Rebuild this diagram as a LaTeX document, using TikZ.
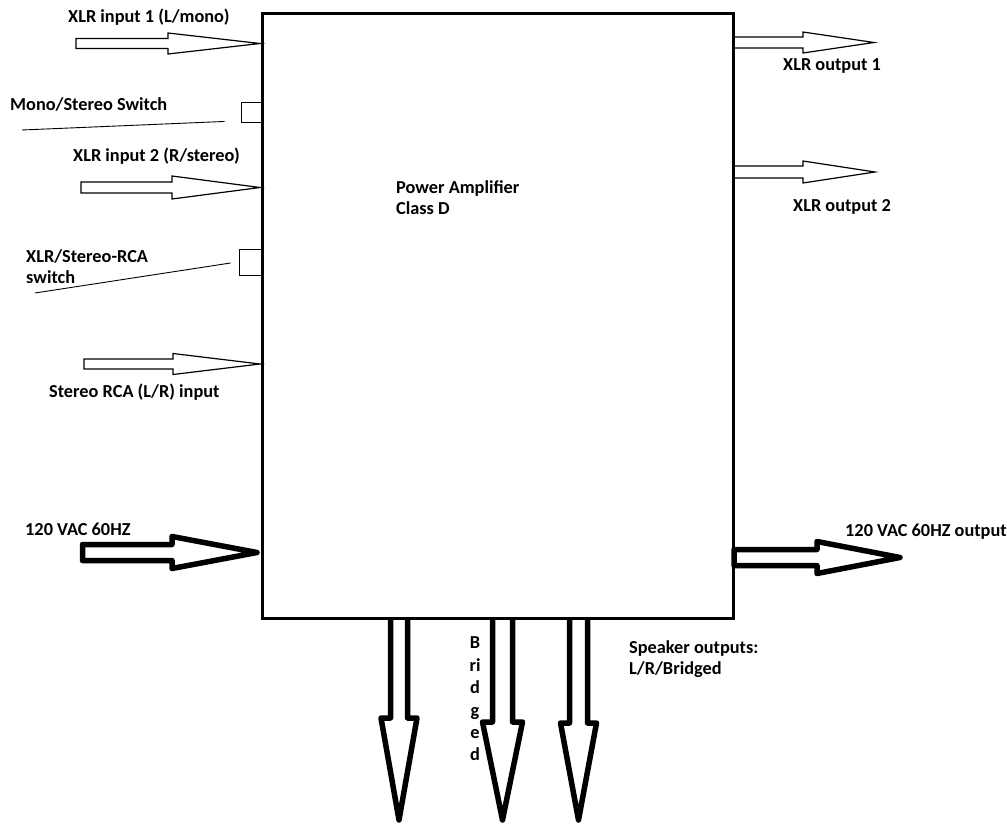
\documentclass[tikz,border=0pt]{standalone}
\usepackage{fontspec}
\setmainfont{Carlito}
\usetikzlibrary{positioning}

\begin{document}
\begin{tikzpicture}[
    x=1pt, y=-1pt,
    lbl/.style={font=\fontsize{18.3}{21.5}\selectfont\bfseries, inner sep=0pt, anchor=west, align=left},
    thinarr/.style={draw, line width=1.2pt, line join=miter},
    thickarr/.style={draw, line width=5.5pt, line join=round},
    switchbox/.style={draw, line width=0.9pt, inner sep=0pt}
]
\useasboundingbox (0,0) rectangle (1007,824);

\node[draw, line width=3pt, minimum width=471pt, minimum height=604pt, inner sep=0pt] (amp) at (497.5,316) {};
\node[lbl] (title) at (396,197.5) {Power Amplifier\\Class D};

\foreach \xs/\xh/\xt/\yc/\hs/\hh in {76/168/260/43.5/5/10.5, 81/172/260/187.5/5.5/11.5, 84/173/260/364/5/10.5, 733/803/874/42.5/5.5/10.5, 733/803/875/172/6/11}
    \draw[thinarr] (\xs,\yc-\hs) -- (\xh,\yc-\hs) -- (\xh,\yc-\hh) -- (\xt,\yc) -- (\xh,\yc+\hh) -- (\xh,\yc+\hs) -- (\xs,\yc+\hs) -- cycle;

\foreach \xs/\xh/\xt/\yc in {82.5/172/257/552.5, 734/817/900/557.5}
    \draw[thickarr] (\xs,\yc-8) -- (\xh,\yc-8) -- (\xh,\yc-16) -- (\xt,\yc) -- (\xh,\yc+16) -- (\xh,\yc+8) -- (\xs,\yc+8) -- cycle;

\foreach \xc/\ys/\yh/\hs/\hh in {399/617/718/8.5/18, 502.5/620/722/10/20, 578.5/620/723/9/18}
    \draw[thickarr] (\xc-\hs,\ys) -- (\xc-\hs,\yh) -- (\xc-\hh,\yh) -- (\xc,820) -- (\xc+\hh,\yh) -- (\xc+\hs,\yh) -- (\xc+\hs,\ys);

\node[switchbox, minimum width=20pt, minimum height=20pt] (monosw) at (251,112) {};
\node[switchbox, minimum width=22pt, minimum height=26pt] (rcasw) at (250,262) {};
\coordinate (monoend) at (22,130);
\coordinate (rcaend) at (35,293);
\draw[line width=0.9pt] (monoend) -- ([xshift=-16pt, yshift=1pt]monosw.south west);
\draw[line width=0.9pt] (rcaend) -- ([xshift=-8pt, yshift=-1pt]rcasw.west);

\node[lbl] (in1) at (68,17) {XLR input 1 (L/mono)};
\node[lbl] (monolbl) at (10,104) {Mono/Stereo Switch};
\node[lbl] (in2) at (73,156) {XLR input 2 (R/stereo)};
\node[lbl] (rcalbl) at (26,266.5) {XLR/Stereo-RCA\\switch};
\node[lbl] (in3) at (49,392) {Stereo RCA (L/R) input};
\node[lbl] (acin) at (25,529) {120 VAC 60HZ};
\node[lbl] (out1) at (783,66) {XLR output 1};
\node[lbl] (out2) at (793,207) {XLR output 2};
\node[lbl] (acout) at (845,532) {120 VAC 60HZ output};
\node[lbl] (spk) at (629,659) {Speaker outputs:\\L/R/Bridged};
\node[lbl, anchor=center, align=center, font=\fontsize{18.3}{22.4}\selectfont\bfseries] (bridged) at (475,699) {B\\ri\\d\\g\\e\\d};
\end{tikzpicture}
\end{document}
